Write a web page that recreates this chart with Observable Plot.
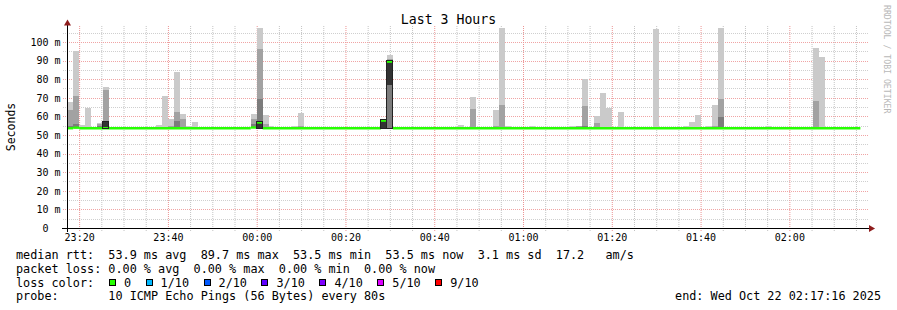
<!DOCTYPE html>
<html><head><meta charset="utf-8">
<script src="https://cdn.jsdelivr.net/npm/d3@7"></script>
<script src="https://cdn.jsdelivr.net/npm/@observablehq/plot@0.6"></script>
<style>
body{margin:0;background:#fff;}
#wrap{position:relative;width:897px;height:310px;overflow:hidden;font-family:"DejaVu Sans Mono",monospace;color:#000;background:#fff;}
#chart{position:absolute;left:0;top:0;}
.t{position:absolute;white-space:pre;line-height:14px;font-size:11.8px;}
.sq{display:inline-block;width:7px;height:7px;box-sizing:border-box;border:1px solid #000;vertical-align:top;margin-top:3px;margin-right:8px;}
.it{display:inline-block;margin-right:14.5px;}
</style></head><body><div id="wrap"><div id="chart"></div></div>
<script>
// ---------- data ----------
const titleText = "Last 3 Hours";
const yLabel = "Seconds";
const creditText = "RRDTOOL / TOBI OETIKER";
const xTickLabels = ["23:20","23:40","00:00","00:20","00:40","01:00","01:20","01:40","02:00"];
const yTickValues = [0,10,20,30,40,50,60,70,80,90,100];
const yMax = 108.6;
const smokeBase = 53.5;
// [step, top] — light (outer) smoke
const lightSmoke = [[0,67.9],[1,95.2],[2,55.4],[3,64.7],[5,56.5],[6,75.8],[9,54.5],[15,55.4],[16,71],[17,58.6],[18,83.9],[19,61.3],[20,55],[21,57],[31,61.3],[32,107.5],[33,60.8],[34,54.8],[38,54.8],[39,61.8],[40,54.3],[53,58.5],[54,93],[66,55.4],[68,70.4],[69,54.3],[72,63.4],[73,107.5],[74,54.8],[78,54.8],[85,54.8],[86,54.8],[87,80.1],[89,60.2],[90,72.6],[91,64.5],[93,62.4],[99,107],[102,54.3],[104,54.8],[105,57],[106,60.8],[108,54.8],[109,66.1],[110,107.5],[118,54.8],[126,96.8],[127,91.9]];
// [step, top] — middle smoke
const midSmoke = [[0,63.4],[1,71],[5,55.8],[6,74.2],[17,55],[18,62.4],[19,58.6],[31,58.6],[32,96.2],[33,55.9],[39,54.8],[54,91],[68,64],[72,54.8],[73,66.1],[86,55],[87,65.6],[89,56.5],[109,55],[110,69.4],[126,68.3]];
// [step, top] — dark smoke
const darkSmoke = [[0,55],[1,56],[5,55],[6,57],[18,57.7],[31,55.9],[32,69.4],[54,77],[73,54.5],[87,54.8],[110,59.7],[126,54.5]];
// [step, bottom, top] — darkest smoke near median
const darkestSmoke = [[6,53.5,57],[32,53.5,57],[53,53.5,58],[54,77,89.7]];
// [step, top] — outlined boxes
const outlinedSteps = [[6,57],[32,57.2],[53,58.3],[54,90]];
// median rtt as runs: [first step, value]
const medianRuns = [[0,53.9],[1,54.2],[2,53.9],[31,54.3],[32,57],[33,53.9],[53,58],[54,89.7],[55,53.9]];
const medianLastStep = 134;
const lossLabels = ["0","1/10","2/10","3/10","4/10","5/10","9/10"];
const lossColors = ["#26ff00","#00b8ff","#0059ff","#5e00ff","#7e00ff","#dd00ff","#ff0000"];
const legendLine1 = "median rtt:  53.9 ms avg  89.7 ms max  53.5 ms min  53.5 ms now  3.1 ms sd  17.2   am/s";
const legendLine2 = "packet loss: 0.00 % avg  0.00 % max  0.00 % min  0.00 % now";
const legendLine3 = "loss color:";
const legendLine4 = "probe:       10 ICMP Echo Pings (56 Bytes) every 80s";
const endText = "end: Wed Oct 22 02:17:16 2025";

// ---------- time helpers ----------
const tStart = new Date(Date.UTC(2025,9,21,23,17,16));
const tEnd = new Date(Date.UTC(2025,9,22,2,17,16));
const stepStart = Date.UTC(2025,9,21,23,17,20);
const stepMs = 80000;
const T = i => new Date(stepStart + i*stepMs);
const hm = s => { const [h,m] = s.split(":").map(Number); return new Date(Date.UTC(2025,9,h>=12?21:22,h,m)); };
const majorX = xTickLabels.map(hm);
const minorX = d3.utcMinute.every(5).range(tStart, tEnd).filter(d => d.getUTCMinutes() % 20 !== 0);
const majorY = yTickValues.filter(v => v > 0);
const minorY = majorY.map(v => v - 5).concat([105]);

const toRects = (arr) => arr.map(([i, top]) => ({x1:T(i), x2:T(i+1), y1:smokeBase, y2:top}));
const lightRects = toRects(lightSmoke);
const midRects = toRects(midSmoke);
const darkRects = toRects(darkSmoke);
const darkestRects = darkestSmoke.map(([i,b,t]) => ({x1:T(i), x2:T(i+1), y1:b, y2:t}));
const outlineRects = toRects(outlinedSteps);
const medianSegs = medianRuns.map(([s,v],k) => ({x1:T(s), x2:T(k+1<medianRuns.length?medianRuns[k+1][0]:medianLastStep), v}));

const rectOpts = {x1:"x1", x2:"x2", y1:"y1", y2:"y2", shapeRendering: "crispEdges"};
const hGrid = {strokeDasharray: "1,1", shapeRendering: "crispEdges", insetLeft: -4, insetRight: -2};
const vGrid = {strokeDasharray: "1,1", insetBottom: -4};
const chart = Plot.plot({
  width: 897, height: 245,
  marginLeft: 67, marginRight: 31, marginTop: 26, marginBottom: 17,
  style: {fontFamily: "'DejaVu Sans Mono', monospace", fontSize: "10px", background: "transparent", color: "#000", overflow: "visible"},
  x: {type: "utc", domain: [tStart, tEnd]},
  y: {domain: [0, yMax]},
  marks: [
    Plot.ruleY(minorY, {...hGrid, stroke: "#cfcfcf"}),
    Plot.ruleX(minorX, {...vGrid, stroke: "#c4c4c4"}),
    Plot.ruleY(majorY, {...hGrid, stroke: "#f0a4a4"}),
    Plot.ruleX(majorX, {...vGrid, stroke: "#ec9494"}),
    Plot.rect(lightRects, {...rectOpts, fill: "#cacaca"}),
    Plot.rect(midRects, {...rectOpts, fill: "#a2a2a2"}),
    Plot.rect(darkRects, {...rectOpts, fill: "#7c7c7c"}),
    Plot.rect(darkestRects, {...rectOpts, fill: "#333"}),
    Plot.ruleY(medianSegs, {y: "v", x1: "x1", x2: "x2", stroke: "#26ff00", strokeWidth: 2.4}),
    Plot.rect(outlineRects, {...rectOpts, fill: "none", stroke: "#222", strokeWidth: 1}),
    Plot.ruleY([0], {stroke: "#000", insetLeft: -5, insetRight: -3, shapeRendering: "crispEdges"}),
    Plot.ruleX([tStart], {stroke: "#000", insetTop: -3, insetBottom: -4, shapeRendering: "crispEdges"}),
    Plot.dot([0], {frameAnchor: "top-left", symbol: "triangle", r: 2.6, fill: "#8e1c1c", dy: -3}),
    Plot.dot([0], {frameAnchor: "bottom-right", symbol: "triangle", r: 2.6, fill: "#8e1c1c", rotate: 90, dx: 4.5}),
    Plot.axisX({ticks: majorX, tickFormat: d3.utcFormat("%H:%M"), tickSize: 0, tickPadding: 5, label: null}),
    Plot.axisY({ticks: yTickValues, tickFormat: d => d === 0 ? "0\u00a0\u00a0" : `${d} m`, tickSize: 0, tickPadding: 7, label: null})
  ]
});
document.getElementById("chart").appendChild(chart);

// ---------- texts around ----------
const wrap = document.getElementById("wrap");
function addText(txt, css, cls = "t") {
  const d = document.createElement("div");
  d.className = cls; d.textContent = txt; d.style.cssText = css; wrap.appendChild(d); return d;
}
addText(titleText, "left:0;top:12px;width:897px;text-align:center;font-size:13.2px;line-height:16px;");
addText(yLabel, "left:11px;top:127px;font-size:11.5px;transform:translate(-50%,-50%) rotate(-90deg);");
addText(creditText, "left:882px;top:5px;font-size:8.2px;line-height:9px;writing-mode:vertical-rl;color:#b8b8b8;");
addText(legendLine1, "left:16px;top:247.5px;");
addText(legendLine2, "left:16px;top:261.5px;");
addText(legendLine3, "left:16px;top:275.5px;");
addText(legendLine4, "left:16px;top:289.2px;");
addText(endText, "right:16px;top:289.2px;");
const lossRow = document.createElement("div");
lossRow.className = "t"; lossRow.style.cssText = "left:109px;top:275.5px;";
lossLabels.forEach((lab, k) => {
  const it = document.createElement("span"); it.className = "it";
  const sq = document.createElement("span"); sq.className = "sq"; sq.style.background = lossColors[k];
  it.appendChild(sq); it.appendChild(document.createTextNode(lab)); lossRow.appendChild(it);
});
wrap.appendChild(lossRow);
</script></body></html>
